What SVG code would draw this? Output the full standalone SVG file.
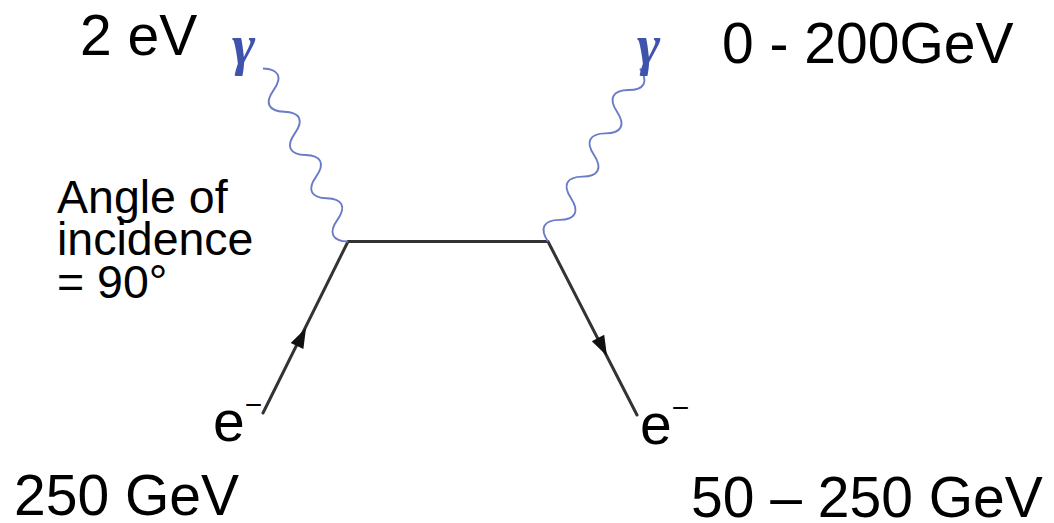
<svg xmlns="http://www.w3.org/2000/svg" width="1054" height="523" viewBox="0 0 1054 523">
  <style>
    .lbl { font-family: "Liberation Sans", Arial, sans-serif; fill: #000; }
    .big { font-size: 57px; }
    .mid { font-size: 46.5px; }
    .el { font-size: 57px; }
    .sup { font-size: 30px; }
    .gam { font-family: "Liberation Serif", "Times New Roman", serif; font-style: italic; font-weight: bold; font-size: 56px; fill: #3f53ad; }
    .fermion { stroke: #333; stroke-width: 3; fill: none; stroke-linecap: round; }
    .photon { stroke: #6a7bc8; stroke-width: 1.9; fill: none; }
    .arrow { fill: #111; }
  </style>
  <rect width="1054" height="523" fill="#fff"/>
  <g id="connectors">
    <path class="fermion" d="M263,413 L348,241.5 L548,241.5 L637,415"/>
    <polygon class="arrow" points="306,328 303.4,349.1 290.7,342.9"/>
    <polygon class="arrow" points="607,356 604.2,334.8 591.8,341.2"/>
    <path class="photon" transform="translate(348,241.5) rotate(-116.17)" d="M0,0 c7.5,-14 16.6,-14 24.1,0 c7.5,14 16.6,14 24.1,0 c7.5,-14 16.6,-14 24.1,0 c7.5,14 16.6,14 24.1,0 c7.5,-14 16.6,-14 24.1,0 c7.5,14 16.6,14 24.1,0 c7.5,-14 16.6,-14 24.1,0 c7.5,14 16.6,14 24.1,0"/>
    <path class="photon" transform="translate(548,241.5) rotate(-62)" d="M0,0 c7.6,-14 16.9,-14 24.5,0 c7.6,14 16.9,14 24.5,0 c7.6,-14 16.9,-14 24.5,0 c7.6,14 16.9,14 24.5,0 c7.6,-14 16.9,-14 24.5,0 c7.6,14 16.9,14 24.5,0 c7.6,-14 16.9,-14 24.5,0 c7.6,14 16.9,14 24.5,0"/>
  </g>
  <g id="photon-in">
    <text class="gam" x="232" y="64">γ</text>
    <text class="lbl big" x="80" y="55">2 eV</text>
  </g>
  <g id="photon-out">
    <text class="gam" x="637" y="64">γ</text>
    <text class="lbl big" x="722" y="63">0 - 200GeV</text>
  </g>
  <g id="angle-label">
    <text class="lbl mid" x="57" y="213">Angle of</text>
    <text class="lbl mid" x="57" y="255">incidence</text>
    <text class="lbl mid" x="57" y="298">= 90°</text>
  </g>
  <g id="electron-in">
    <text class="lbl el" x="213" y="441">e<tspan class="sup" dy="-26">−</tspan></text>
    <text class="lbl big" x="14" y="515">250 GeV</text>
  </g>
  <g id="electron-out">
    <text class="lbl el" x="640" y="444">e<tspan class="sup" dy="-26">−</tspan></text>
    <text class="lbl big" x="691" y="517">50 – 250 GeV</text>
  </g>
</svg>
